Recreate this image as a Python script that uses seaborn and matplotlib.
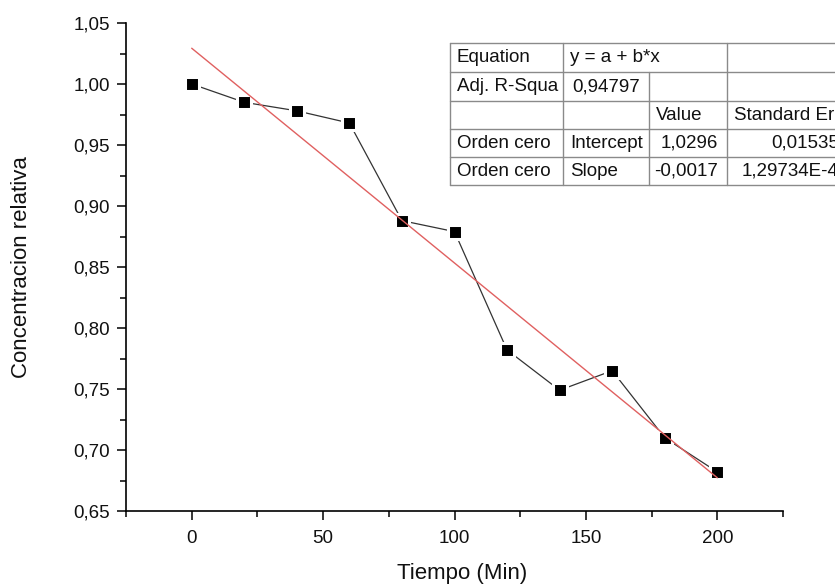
import matplotlib
matplotlib.use("Agg")
import matplotlib.pyplot as plt
from matplotlib.lines import Line2D
from matplotlib.ticker import MultipleLocator, FixedLocator
import seaborn as sns
import pandas as pd

# ---- data ----
tiempo = [0, 20, 40, 60, 80, 100, 120, 140, 160, 180, 200]
concentracion = [1.000, 0.985, 0.978, 0.968, 0.888, 0.879, 0.782, 0.749, 0.765, 0.710, 0.682]

x_ticks = [0, 50, 100, 150, 200]
x_tick_labels = ["0", "50", "100", "150", "200"]
y_ticks = [0.65, 0.70, 0.75, 0.80, 0.85, 0.90, 0.95, 1.00, 1.05]
y_tick_labels = ["0,65", "0,70", "0,75", "0,80", "0,85", "0,90", "0,95", "1,00", "1,05"]

# fit-result table (as shown in the reference)
table_rows = [
    ["Equation", "y = a + b*x", "", ""],
    ["Adj. R-Squa", "0,94797", "", ""],
    ["", "", "Value", "Standard Er"],
    ["Orden cero", "Intercept", "1,0296", "0,01535"],
    ["Orden cero", "Slope", "-0,0017", "1,29734E-4"],
]

df = pd.DataFrame({"Tiempo": tiempo, "Conc": concentracion})

sns.set_theme(style="ticks")
plt.rcParams["font.family"] = ["Liberation Sans", "DejaVu Sans"]

W, H = 835, 584
fig = plt.figure(figsize=(W / 100, H / 100), dpi=100)
L, R, T, B = 126, 783, 23, 511
ax = fig.add_axes([L / W, 1 - B / H, (R - L) / W, (B - T) / H])

sns.lineplot(data=df, x="Tiempo", y="Conc", ax=ax, color="#333333", linewidth=0.9,
             marker="s", markersize=10, markerfacecolor="black",
             markeredgecolor="white", markeredgewidth=2.2, zorder=3)
sns.regplot(data=df, x="Tiempo", y="Conc", ax=ax, scatter=False, ci=None, truncate=True,
            line_kws={"color": "#e06060", "linewidth": 1.0, "zorder": 4})

ax.set_xlim(-25, 225)
ax.set_ylim(0.65, 1.05)
ax.xaxis.set_major_locator(FixedLocator(x_ticks))
ax.set_xticklabels(x_tick_labels)
ax.xaxis.set_minor_locator(MultipleLocator(25))
ax.yaxis.set_major_locator(FixedLocator(y_ticks))
ax.set_yticklabels(y_tick_labels)
ax.yaxis.set_minor_locator(MultipleLocator(0.025))

sns.despine(ax=ax)
for s in ["left", "bottom"]:
    ax.spines[s].set_linewidth(1.2)
    ax.spines[s].set_color("black")
ax.tick_params(which="major", direction="out", length=6.5, width=1.1, color="black",
               labelsize=13.5, labelcolor="#111111")
ax.tick_params(which="minor", direction="out", length=4.3, width=1.1, color="black")
ax.tick_params(axis="y", which="major", pad=5)
ax.tick_params(axis="x", which="major", pad=7)

ax.set_xlabel("Tiempo (Min)", fontsize=16, va="center", color="#111111")
ax.set_ylabel("Concentracion relativa", fontsize=16, va="center", color="#111111")
ax.xaxis.set_label_coords(0.511, (B - 574) / (B - T))
ax.yaxis.set_label_coords((22 - L) / (R - L), 0.5)

# ---- table drawn in figure pixel space ----
def fx(x):
    return x / W

def fy(y):
    return 1 - y / H

cols = [450, 563, 649, 727, 848]
rows = [43, 72, 101, 129, 157, 185]
gray = "#8a8a8a"

# white background
fig.add_artist(plt.Rectangle((fx(cols[0]), fy(rows[-1])), fx(cols[-1]) - fx(cols[0]),
                             fy(rows[0]) - fy(rows[-1]), transform=fig.transFigure,
                             facecolor="white", edgecolor="none", zorder=5))
# horizontal lines
for yy in rows:
    fig.add_artist(Line2D([fx(cols[0]), fx(cols[-1])], [fy(yy), fy(yy)],
                          transform=fig.transFigure, color=gray, lw=1.0, zorder=6))
# vertical lines (col at 649 not drawn in first row: merged cell)
for xx in cols:
    y_start = rows[1] if xx == 649 else rows[0]
    fig.add_artist(Line2D([fx(xx), fx(xx)], [fy(y_start), fy(rows[-1])],
                          transform=fig.transFigure, color=gray, lw=1.0, zorder=6))

for r, row in enumerate(table_rows):
    yc = (rows[r] + rows[r + 1]) / 2
    for c, txt in enumerate(row):
        if not txt:
            continue
        is_num = (r >= 3 and c >= 2) or (r == 1 and c == 1)
        if is_num:
            fig.text(fx(cols[c + 1] - 9), fy(yc), txt, ha="right", va="center",
                     fontsize=13.5, color="#111111", zorder=7)
        else:
            fig.text(fx(cols[c] + 7), fy(yc), txt, ha="left", va="center",
                     fontsize=13.5, color="#111111", zorder=7)

fig.savefig("out.png", dpi=100, facecolor="white")
